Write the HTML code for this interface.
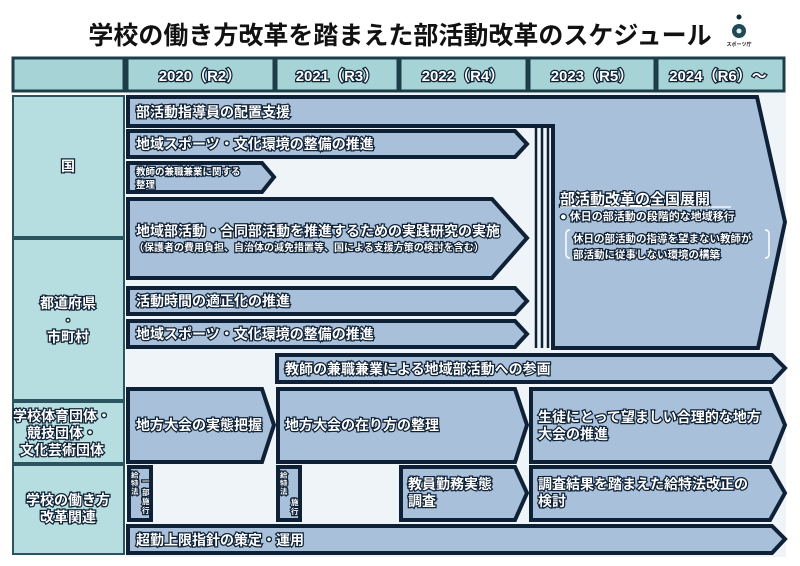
<!DOCTYPE html>
<html><head><meta charset="utf-8"><style>
body{margin:0;background:#fff;}
svg{display:block}
text{font-family:"Liberation Sans","Noto Sans CJK JP",sans-serif;font-weight:bold;}
.w{fill:#fff;stroke:#0f2136;stroke-width:2.5px;paint-order:stroke;}
.b{fill:#a9c0da;stroke:#0f2136;stroke-width:4;stroke-linejoin:miter;}
.h{fill:#a6d3d6;stroke:#1c3e48;stroke-width:3;}
.l{fill:#b6dde0;stroke:#2a5560;stroke-width:2;}
</style></head><body>
<svg width="800" height="566" viewBox="0 0 800 566" xmlns="http://www.w3.org/2000/svg">
<rect width="800" height="566" fill="#fff"/>
<text x="400" y="44" font-size="25" text-anchor="middle" fill="#111">学校の働き方改革を踏まえた部活動改革のスケジュール</text>
<circle cx="739" cy="17" r="2.5" fill="#0f2a33"/>
<circle cx="739" cy="31" r="7" fill="#1f4a55"/><circle cx="739" cy="31" r="2.5" fill="#dfeef0"/>
<text x="739" y="46" font-size="5" text-anchor="middle" fill="#222">スポーツ庁</text>
<!-- content bg -->
<rect x="126" y="93" width="660" height="464" fill="#eef4f7"/>
<!-- header -->
<rect class="h" x="13" y="58" width="111" height="33"/>
<rect class="h" x="127" y="58" width="147" height="33"/>
<rect class="h" x="276" y="58" width="122" height="33"/>
<rect class="h" x="400" y="58" width="127" height="33"/>
<rect class="h" x="529" y="58" width="126" height="33"/>
<rect class="h" x="657" y="58" width="127" height="33"/>
<g class="w" font-size="15" text-anchor="middle">
<text x="200" y="81">2020（R2）</text><text x="337" y="81">2021（R3）</text><text x="463" y="81">2022（R4）</text><text x="592" y="81">2023（R5）</text><text x="718" y="81">2024（R6）～</text>
</g>
<!-- left cells -->
<rect class="l" x="13" y="96" width="111" height="141"/>
<rect class="l" x="13" y="239" width="111" height="161"/>
<rect class="l" x="13" y="402" width="111" height="61"/>
<rect class="l" x="13" y="465" width="111" height="89"/>
<g class="w" font-size="14" text-anchor="middle">
<text x="68" y="171">国</text>
<text x="68" y="308">都道府県</text><text x="68" y="324" font-size="10">・</text><text x="68" y="342">市町村</text>
<text x="62" y="421">学校体育団体・</text><text x="62" y="438">競技団体・</text><text x="62" y="455">文化芸術団体</text>
<text x="68" y="505">学校の働き方</text><text x="68" y="522">改革関連</text>
</g>
<!-- big shape -->
<polygon class="b" points="128,97 757,97 785,222 758,348 553,348 553,126 128,126"/>
<g stroke="#0f2136" stroke-width="2.5"><line x1="536" y1="127" x2="536" y2="348"/><line x1="542" y1="127" x2="542" y2="348"/><line x1="548" y1="127" x2="548" y2="348"/></g>
<text class="w" x="136" y="117" font-size="14">部活動指導員の配置支援</text>
<text class="w" x="560" y="204" font-size="15" text-decoration="underline">部活動改革の全国展開</text>
<line x1="560" y1="207" x2="731" y2="207" stroke="#fff" stroke-width="1.2"/>
<text class="w" x="560" y="220" font-size="11">● 休日の部活動の段階的な地域移行</text>
<path d="M570,230 q-4,0 -4,4 v20 q0,4 4,4 M765,230 q4,0 4,4 v20 q0,4 -4,4" fill="none" stroke="#fff" stroke-width="1.5"/>
<text class="w" x="573" y="242" font-size="10.5">休日の部活動の指導を望まない教師が</text>
<text class="w" x="573" y="258" font-size="10.5">部活動に従事しない環境の構築</text>
<!-- rows -->
<polygon class="b" points="128,131 515,131 527,144 515,157 128,157"/>
<text class="w" x="136" y="149" font-size="14">地域スポーツ・文化環境の整備の推進</text>
<polygon class="b" points="128,163 262,163 274,177 262,192 128,192"/>
<text class="w" x="136" y="175" font-size="9.5">教師の兼職兼業に関する</text><text class="w" x="136" y="188" font-size="9.5">整理</text>
<polygon class="b" points="128,199 492,199 527,238 492,278 128,278"/>
<text class="w" x="136" y="236" font-size="14">地域部活動・合同部活動を推進するための実践研究の実施</text>
<text class="w" x="134" y="251" font-size="10">（保護者の費用負担、自治体の減免措置等、国による支援方策の検討を含む）</text>
<polygon class="b" points="128,288 515,288 527,301 515,314 128,314"/>
<text class="w" x="136" y="306" font-size="14">活動時間の適正化の推進</text>
<polygon class="b" points="128,321 515,321 527,334 515,347 128,347"/>
<text class="w" x="136" y="339" font-size="14">地域スポーツ・文化環境の整備の推進</text>
<polygon class="b" points="277,355 772,355 785,368 772,382 277,382"/>
<text class="w" x="285" y="374" font-size="14">教師の兼職兼業による地域部活動への参画</text>
<polygon class="b" points="128,389 262,389 274,425 262,462 128,462"/>
<text class="w" x="136" y="430" font-size="14">地方大会の実態把握</text>
<polygon class="b" points="278,389 515,389 527,425 515,462 278,462"/>
<text class="w" x="285" y="430" font-size="14">地方大会の在り方の整理</text>
<polygon class="b" points="531,389 770,389 785,425 770,462 531,462"/>
<text class="w" x="538" y="422" font-size="14">生徒にとって望ましい合理的な地方</text><text class="w" x="538" y="439" font-size="14">大会の推進</text>
<rect class="b" x="129" y="467" width="22" height="53"/>
<g class="w" font-size="7.5"><text x="131" y="478">給</text><text x="131" y="486">特</text><text x="131" y="494">法</text><text x="142" y="484">一</text><text x="142" y="495">部</text><text x="142" y="504">施</text><text x="142" y="513">行</text></g>
<rect class="b" x="278" y="467" width="22" height="53"/>
<g class="w" font-size="7.5"><text x="280" y="478">給</text><text x="280" y="486">特</text><text x="280" y="494">法</text><text x="291" y="505">施</text><text x="291" y="514">行</text></g>
<polygon class="b" points="401,467 515,467 527,493 515,520 401,520"/>
<text class="w" x="408" y="489" font-size="14">教員勤務実態</text><text class="w" x="408" y="506" font-size="14">調査</text>
<polygon class="b" points="531,467 770,467 785,493 770,520 531,520"/>
<text class="w" x="538" y="489" font-size="14">調査結果を踏まえた給特法改正の</text><text class="w" x="538" y="506" font-size="14">検討</text>
<polygon class="b" points="128,526 772,526 785,539 772,553 128,553"/>
<text class="w" x="136" y="545" font-size="14">超勤上限指針の策定・運用</text>
</svg>
</body></html>
